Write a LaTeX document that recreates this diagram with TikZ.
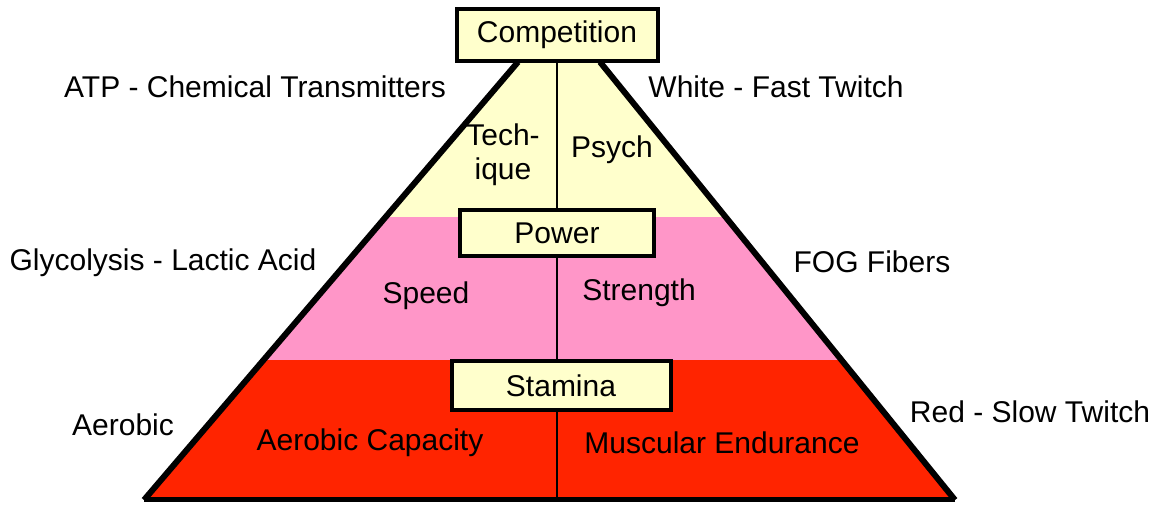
\documentclass[tikz,border=0pt]{standalone}
\usepackage{fontspec}
\setmainfont{Liberation Sans}
\usetikzlibrary{positioning}

\definecolor{paleyellow}{RGB}{255,255,204}
\definecolor{pyrpink}{RGB}{255,150,200}
\definecolor{pyrred}{RGB}{255,36,0}

\tikzset{
  levelbox/.style={draw=black, line width=2pt, fill=paleyellow, inner sep=0pt},
  sidelabel/.style={inner sep=0pt, font=\fontsize{15}{17}\selectfont},
}

\begin{document}
\begin{tikzpicture}[x=.5pt, y=-.5pt, font=\fontsize{15}{17}\selectfont]
\useasboundingbox (0,0) rectangle (1158,506);

% corners of the pyramid
\coordinate (bl) at (144,500);
\coordinate (tl) at (518,62);
\coordinate (tr) at (600,62);
\coordinate (br) at (955,500);
\coordinate (base) at (557,500);

% coloured bands
\begin{scope}
\clip (bl) -- (tl) -- (tr) -- (br) -- cycle;
\fill[paleyellow] (100,50) rectangle (1000,217);
\fill[pyrpink] (100,217) rectangle (1000,360);
\fill[pyrred] (100,360) rectangle (1000,505);
\end{scope}

\draw[line width=3pt] (tl) -- (bl);
\draw[line width=3pt] (tr) -- (br);
\draw[line width=2.5pt] (bl) -- (br);

% the three levels
\node[levelbox, minimum width=100.5pt, minimum height=26pt] (comp) at (557,35) {Competition};
\node[levelbox, minimum width=97pt, minimum height=23pt] (power) at (557,233) {Power};
\node[levelbox, minimum width=109.5pt, minimum height=24.5pt] (stamina) at (561,385.5) {Stamina};

\draw[line width=1pt] (comp) -- (power);
\draw[line width=1pt] (power) -- (power |- stamina.north);
\draw[line width=1pt] (stamina.south -| power) -- (base);

% inside the bands
\node[align=center, inner sep=0pt] (tech) at (503,155) {Tech-\\ique};
\node (psych) at (612,150) {Psych};
\node (speed) at (426,296) {Speed};
\node (strength) at (639,293) {Strength};
\node (aerocap) at (370,443) {Aerobic Capacity};
\node (musc) at (722,443) {Muscular Endurance};

% left side
\node[sidelabel] (atp) at (255,87) {ATP - Chemical Transmitters};
\node[sidelabel] (glyco) at (163,263) {Glycolysis - Lactic Acid};
\node[sidelabel] (aero) at (123,425) {Aerobic};

% right side
\node[sidelabel] (white) at (776,87) {White - Fast Twitch};
\node[sidelabel] (fog) at (872,262) {FOG Fibers};
\node[sidelabel] (red) at (1030,412) {Red - Slow Twitch};

\end{tikzpicture}
\end{document}
